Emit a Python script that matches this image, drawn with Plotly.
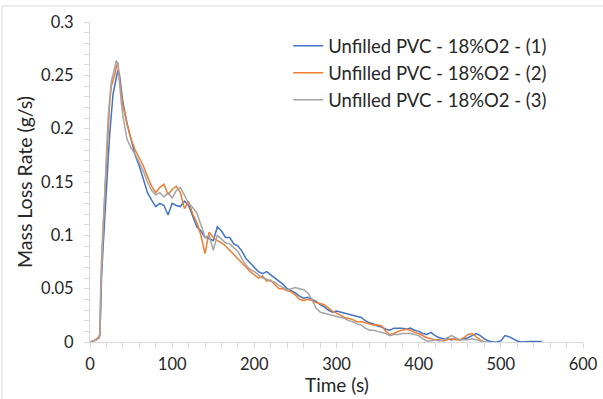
import plotly.graph_objects as go

# ── Palette (Excel default series colours) ───────────────────────────────────
BLUE = "#4472C4"
ORANGE = "#ED7D31"
GRAY = "#A5A5A5"
AXIS = "#D9D9D9"
TEXT = "#262626"
FONT = "Lato, 'Open Sans', sans-serif"

# ── Data ─────────────────────────────────────────────────────────────────────
time_s = [0, 4, 8, 11, 12, 13, 14, 16, 18, 20, 22, 24, 26, 28, 30, 32, 34, 36, 38, 40] + list(range(45, 551, 5))

run_1 = [0, 0.001, 0.002, 0.004, 0.006, 0.03, 0.06, 0.09, 0.12, 0.15, 0.17, 0.195, 0.215, 0.232, 0.24, 0.248,
         0.255, 0.25, 0.235, 0.225,
         0.205, 0.19, 0.175, 0.165, 0.152, 0.14, 0.133, 0.127, 0.13, 0.128, 0.119, 0.13, 0.128, 0.127, 0.132,
         0.128, 0.118, 0.108, 0.104, 0.098, 0.097, 0.095, 0.108, 0.104, 0.098, 0.098, 0.092, 0.09, 0.085,
         0.078, 0.074, 0.07, 0.066, 0.064, 0.066, 0.063, 0.06, 0.057, 0.054, 0.05, 0.048, 0.046, 0.043,
         0.041, 0.042, 0.04, 0.038, 0.035, 0.033, 0.03, 0.028, 0.029, 0.028, 0.027, 0.026, 0.025, 0.024,
         0.023, 0.02, 0.018, 0.017, 0.015, 0.014, 0.012, 0.011, 0.013, 0.013, 0.013, 0.012, 0.013, 0.011,
         0.01, 0.008, 0.007, 0.009, 0.006, 0.004, 0.003, 0.003, 0.002, 0.003, 0.002, 0.003, 0.004, 0.006,
         0.008, 0.006, 0.003, 0.001, 0.0, 0.0, 0.001, 0.006, 0.005, 0.003, 0.001, 0.0, 0.0005, 0.0005,
         0.0005, 0.0005, 0.0005]

run_2 = [0, 0.001, 0.003, 0.005, 0.008, 0.06, 0.075, 0.11, 0.14, 0.172, 0.205, 0.225, 0.24, 0.245, 0.25, 0.258,
         0.262, 0.245, 0.232, 0.222,
         0.205, 0.19, 0.18, 0.172, 0.165, 0.155, 0.146, 0.14, 0.145, 0.148, 0.138, 0.143, 0.146, 0.14, 0.125,
         0.132, 0.12, 0.112, 0.1, 0.083, 0.103, 0.098, 0.095, 0.093, 0.09, 0.086, 0.082, 0.079, 0.075,
         0.07, 0.066, 0.063, 0.06, 0.062, 0.057, 0.058, 0.054, 0.05, 0.05, 0.048, 0.047, 0.044, 0.04,
         0.039, 0.04, 0.039, 0.037, 0.036, 0.035, 0.032, 0.029, 0.027, 0.025, 0.023, 0.022, 0.021, 0.019,
         0.019, 0.018, 0.017, 0.016, 0.016, 0.015, 0.01, 0.007, 0.008, 0.01, 0.011, 0.012, 0.011, 0.009,
         0.008, 0.006, 0.004, 0.003, 0.002, 0.002, 0.001, 0.002, 0.003, 0.002, 0.002, 0.004, 0.007, 0.008,
         0.005, 0.002, 0.0]

run_3 = [0, 0.001, 0.002, 0.004, 0.007, 0.05, 0.07, 0.105, 0.14, 0.175, 0.21, 0.232, 0.245, 0.25, 0.258, 0.264,
         0.26, 0.24, 0.225, 0.212,
         0.19, 0.182, 0.176, 0.168, 0.16, 0.15, 0.142, 0.138, 0.14, 0.136, 0.14, 0.135, 0.142, 0.145, 0.138,
         0.13, 0.126, 0.121, 0.11, 0.098, 0.1, 0.086, 0.1, 0.096, 0.093, 0.092, 0.088, 0.085, 0.078,
         0.072, 0.068, 0.066, 0.063, 0.06, 0.059, 0.057, 0.056, 0.053, 0.051, 0.049, 0.05, 0.051, 0.05,
         0.049, 0.046, 0.04, 0.032, 0.028, 0.027, 0.026, 0.025, 0.024, 0.023, 0.022, 0.02, 0.019, 0.017,
         0.016, 0.013, 0.011, 0.011, 0.01, 0.009, 0.008, 0.006, 0.007, 0.007, 0.008, 0.008, 0.008, 0.007,
         0.006, 0.003, 0.001, 0.001, 0.002, 0.001, 0.002, 0.004, 0.006, 0.004, 0.002, 0.002, 0.002, 0.003,
         0.002, 0.001, 0.0, 0.0]

series = [
    ("Unfilled PVC - 18%O2 - (1)", run_1, BLUE),
    ("Unfilled PVC - 18%O2 - (2)", run_2, ORANGE),
    ("Unfilled PVC - 18%O2 - (3)", run_3, GRAY),
]

fig = go.Figure()
for name, vals, color in series:
    fig.add_trace(go.Scatter(
        x=time_s[:len(vals)], y=vals, name=name, mode="lines",
        line=dict(color=color, width=1.5),
    ))

fig.update_layout(
    width=603, height=399,
    paper_bgcolor="white", plot_bgcolor="white",
    font=dict(family=FONT, color=TEXT, size=17),
    margin=dict(l=90, r=20, t=22, b=57),
    showlegend=True,
    legend=dict(
        x=0.402, y=0.984, xanchor="left", yanchor="top",
        bgcolor="rgba(0,0,0,0)", font=dict(size=18.5, color=TEXT),
        tracegroupgap=0,
    ),
)

fig.update_xaxes(
    range=[0, 600], dtick=100, showgrid=False, zeroline=False, automargin=False,
    showline=True, linecolor=AXIS, linewidth=1,
    ticks="outside", ticklen=5, tickcolor=AXIS,
    minor=dict(dtick=20, ticks="outside", ticklen=5, tickcolor=AXIS),
    tickfont=dict(size=16.5), ticklabelstandoff=2,
)
fig.update_yaxes(
    range=[0, 0.3], dtick=0.05, showgrid=False, zeroline=False, automargin=False,
    showline=True, linecolor=AXIS, linewidth=1,
    ticks="outside", ticklen=5, tickcolor=AXIS,
    minor=dict(dtick=0.01, ticks="outside", ticklen=5, tickcolor=AXIS),
    tickfont=dict(size=16.5), ticklabelstandoff=7,
    title=dict(text="Mass Loss Rate (g/s)", font=dict(size=19.5), standoff=3),
)

# x title as an annotation: it sits tighter under the tick labels than standoff allows
fig.add_annotation(text="Time (s)", xref="paper", yref="paper", x=0.5, y=-(384 - 342) / 320,
                   xanchor="center", yanchor="middle", showarrow=False, font=dict(size=19))

# light chart-area frame, as in the Excel export (only top and left edges show)
fig.add_shape(type="rect", xref="paper", yref="paper",
              x0=(2 - 90) / 493, x1=(620 - 90) / 493,
              y0=-(420 - 342) / 320, y1=1 + (22 - 6) / 320,
              line=dict(color=AXIS, width=1), layer="below")

fig.write_html("out.html", config={"displayModeBar": False},
               post_script="document.body.style.margin='0';document.body.style.overflow='hidden';")
